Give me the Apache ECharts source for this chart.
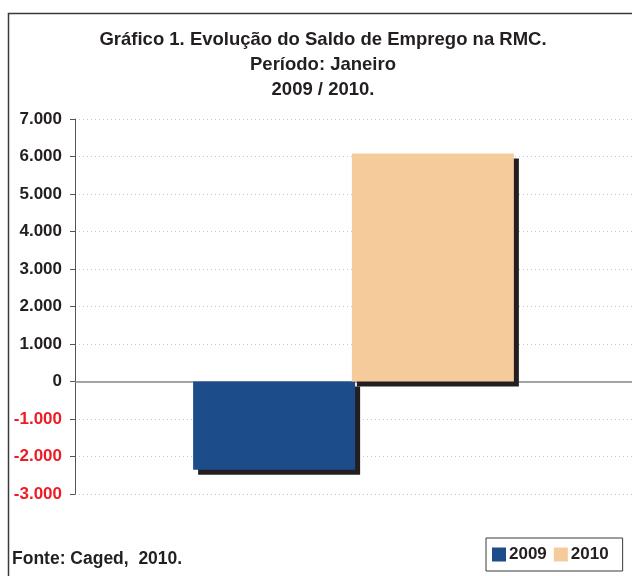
<!DOCTYPE html>
<html><head><meta charset="utf-8">
<script src="https://cdn.jsdelivr.net/npm/echarts@6/dist/echarts.min.js"></script>
<style>html,body{margin:0;padding:0;background:#fff}#c{width:632px;height:576px}</style>
</head><body><div id="c"></div>
<script>
const categories = ['Janeiro'];
const seriesNames = ['2009', '2010'];
const values2009 = [-2350];
const values2010 = [6080];
const yTicks = [-3000, -2000, -1000, 0, 1000, 2000, 3000, 4000, 5000, 6000, 7000];
const titleLines = ['Gráfico 1. Evolução do Saldo de Emprego na RMC.', 'Período: Janeiro', '2009 / 2010.'];
const sourceText = 'Fonte: Caged,  2010.';

const FONT = '"Liberation Sans", Arial, sans-serif';
const chart = echarts.init(document.getElementById('c'), null, {renderer: 'canvas'});
function fmt(v) {
  const s = Math.abs(v).toString().replace(/\B(?=(\d{3})+(?!\d))/g, '.');
  return (v < 0 ? '-' : '') + s;
}
chart.setOption({
  backgroundColor: '#fff',
  animation: false,
  title: {
    text: titleLines.join('\n'),
    left: 318, textAlign: 'center', top: 22,
    textStyle: {fontFamily: FONT, fontWeight: 'bold', fontSize: 18.5, lineHeight: 25, color: '#231f20'}
  },
  graphic: [
    {type: 'rect', shape: {x: 8.5, y: 13.5, width: 640, height: 600}, style: {fill: 'none', stroke: '#3a3a3a', lineWidth: 1.5}, z: 100},
    {type: 'text', left: 12, top: 550, style: {text: sourceText, fontFamily: FONT, fontWeight: 'bold', fontSize: 17.5, fill: '#231f20'}}
  ],
  legend: {
    data: seriesNames,
    left: 486, top: 538, width: 140,
    orient: 'horizontal',
    borderColor: '#3a3a3a', borderWidth: 1,
    padding: [8, 14, 8, 6],
    itemWidth: 14, itemHeight: 14, itemGap: 7,
    icon: 'rect',
    textStyle: {fontFamily: FONT, fontWeight: 'bold', fontSize: 17, color: '#231f20', padding: [0, 0, 0, -2]}
  },
  grid: {left: 75, right: 0, top: 119, bottom: 82, containLabel: false},
  xAxis: {
    type: 'category', data: categories,
    axisLine: {show: false}, axisTick: {show: false}, axisLabel: {show: false}, splitLine: {show: false}
  },
  yAxis: {
    type: 'value', min: -3000, max: 7000, interval: 1000,
    axisLine: {show: true, lineStyle: {color: '#555', width: 1}},
    axisTick: {show: true, length: 5, inside: false, lineStyle: {color: '#555'}},
    axisLabel: {
      fontFamily: FONT, fontWeight: 'bold', fontSize: 17, margin: 13,
      formatter: v => fmt(v),
      color: v => (Number(v) < 0 ? '#ed1c24' : '#231f20')
    },
    splitLine: {show: true, lineStyle: {color: '#c8c8c8', type: [1, 3], width: 1}}
  },
  series: [
    {
      name: seriesNames[0], type: 'bar', data: values2009, barWidth: 162, barGap: '-2%',
      itemStyle: {color: '#1c4c89', shadowColor: '#231f20', shadowBlur: 0, shadowOffsetX: 5, shadowOffsetY: 5},
      markLine: {
        silent: true, symbol: 'none', label: {show: false},
        lineStyle: {color: '#888', type: 'solid', width: 1.5},
        data: [{yAxis: 0}], z: 1
      }
    },
    {
      name: seriesNames[1], type: 'bar', data: values2010, barWidth: 162,
      itemStyle: {color: '#f6cb9c', shadowColor: '#231f20', shadowBlur: 0, shadowOffsetX: 5, shadowOffsetY: 5}
    }
  ]
});
</script></body></html>
